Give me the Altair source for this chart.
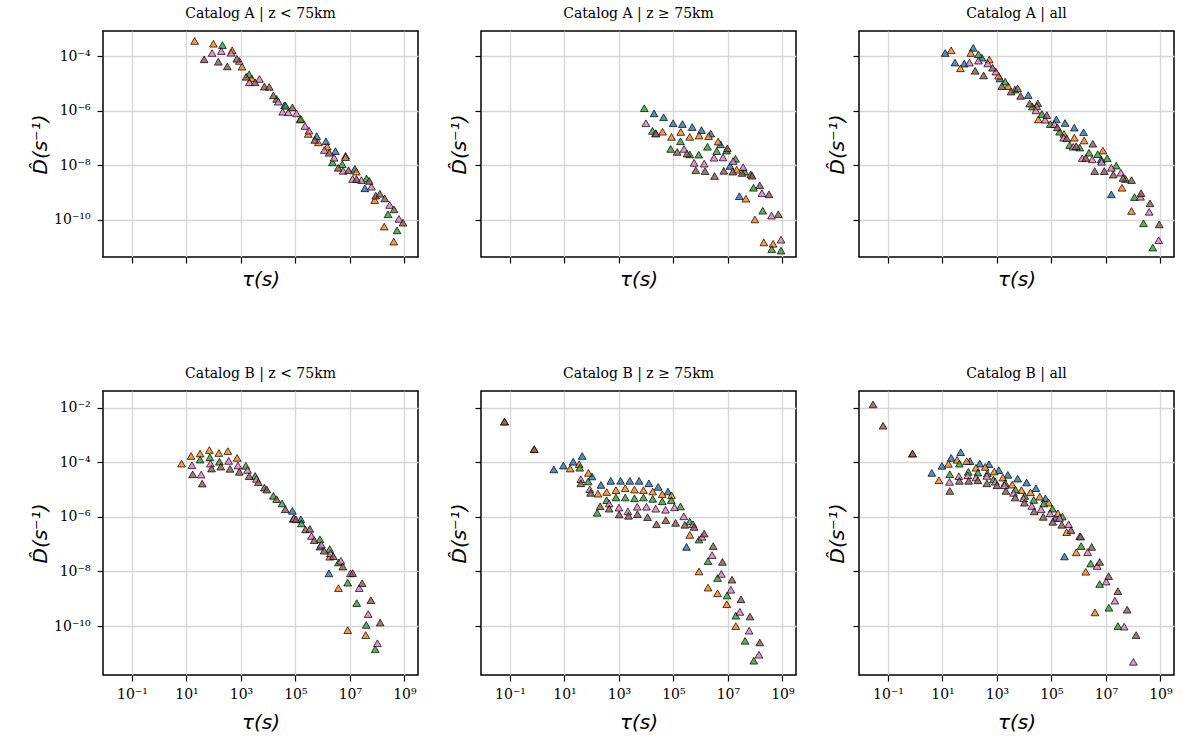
import math
import altair as alt
import pandas as pd

# ---- series styling (tab10-like colours) ----
SERIES = ["s1", "s2", "s3", "s4", "s5"]
COLORS = ["#1f77b4", "#ff7f0e", "#2ca02c", "#e377c2", "#8c564b"]

# ---- tick values ----
X_TICKS = [1e-1, 1e1, 1e3, 1e5, 1e7, 1e9]
Y_TICKS_TOP = [1e-4, 1e-6, 1e-8, 1e-10]
Y_TICKS_BOT = [1e-2, 1e-4, 1e-6, 1e-8, 1e-10]
X_DOMAIN_EXP = [-2.064, 9.50]
Y_DOMAIN_TOP_EXP = [-11.354, -3.085]
Y_DOMAIN_BOT_EXP = [-11.793, -1.389]

# ---- data: log10(tau), log10(D) per panel and series ----
# Catalog A | z < 75km
a_lt_s1_tau = [4.6, 5.78, 6.12, 6.47, 6.84, 7.18, 7.55]
a_lt_s1_d = [-5.8, -6.93, -7.12, -7.48, -7.65, -8.13, -8.84]
a_lt_s2_tau = [1.30, 1.99, 2.68, 3.04, 3.40, 5.17, 5.47, 5.84, 6.17, 6.84, 7.24, 7.91, 8.26, 8.61]
a_lt_s2_d = [-3.45, -3.55, -3.79, -4.39, -4.82, -6.32, -6.85, -7.16, -7.32, -7.70, -8.23, -9.27, -10.24, -10.79]
a_lt_s3_tau = [2.32, 3.30, 4.31, 4.64, 5.20, 6.36, 6.72, 7.61, 8.40, 8.73]
a_lt_s3_d = [-3.60, -4.67, -5.57, -5.82, -6.30, -7.89, -7.96, -8.48, -9.79, -10.38]
a_lt_s4_tau = [1.94, 2.28, 2.64, 2.94, 3.31, 3.68, 4.37, 4.53, 4.74, 5.04, 5.35, 5.50, 6.06, 6.42, 6.75, 7.10, 7.42, 7.79, 8.46, 8.80]
a_lt_s4_d = [-3.89, -3.82, -3.88, -4.18, -4.96, -4.84, -5.67, -6.04, -6.06, -6.10, -6.56, -6.73, -7.44, -7.72, -8.20, -8.50, -8.54, -8.78, -9.45, -9.96]
a_lt_s5_tau = [1.65, 2.17, 2.50, 2.85, 3.19, 3.52, 3.86, 4.04, 4.19, 4.89, 5.71, 6.24, 6.57, 6.95, 7.24, 7.71, 7.95, 8.10, 8.28, 8.62, 8.95]
a_lt_s5_d = [-4.12, -4.21, -4.38, -4.10, -4.76, -4.96, -5.12, -5.13, -5.44, -5.88, -7.07, -7.54, -8.09, -8.18, -8.50, -8.57, -9.11, -9.04, -9.21, -9.61, -10.10]

# Catalog A | z >= 75km
a_ge_s1_tau = [4.29, 4.64, 4.99, 5.33, 5.69, 6.03, 6.37, 6.73, 7.08, 7.42]
a_ge_s1_d = [-6.10, -6.24, -6.46, -6.49, -6.60, -6.71, -6.84, -7.23, -8.02, -9.13]
a_ge_s2_tau = [4.60, 4.93, 5.27, 5.60, 5.94, 6.29, 6.64, 7.32, 7.66, 7.99, 8.32, 8.66]
a_ge_s2_d = [-6.77, -6.96, -6.78, -6.96, -6.91, -6.93, -7.13, -8.16, -9.22, -9.98, -10.82, -10.87]
a_ge_s3_tau = [3.93, 4.23, 4.90, 5.26, 5.60, 5.93, 6.25, 6.59, 6.95, 7.28, 7.62, 7.94, 8.28, 8.61, 8.95]
a_ge_s3_d = [-5.91, -6.74, -7.40, -7.12, -7.60, -7.61, -7.32, -7.48, -7.46, -7.76, -8.23, -8.82, -9.66, -11.07, -11.12]
a_ge_s4_tau = [3.99, 4.35, 5.39, 5.76, 6.13, 6.49, 6.82, 7.19, 7.56, 8.25, 8.60, 8.95]
a_ge_s4_d = [-6.46, -6.82, -7.40, -7.91, -7.94, -7.72, -7.71, -7.84, -8.07, -9.02, -9.84, -10.72]
a_ge_s5_tau = [4.35, 5.14, 5.50, 5.82, 6.16, 6.51, 6.85, 6.98, 7.18, 7.52, 7.84, 7.89, 8.17, 8.51, 8.85]
a_ge_s5_d = [-6.84, -7.51, -7.57, -8.18, -8.21, -8.39, -8.20, -7.38, -8.23, -8.28, -8.33, -8.38, -8.73, -9.06, -9.79]

# Catalog A | all
a_all_s1_tau = [1.10, 1.46, 1.80, 2.13, 2.45, 3.11, 4.15, 4.50, 5.18, 5.50, 5.84, 6.18, 6.83, 7.20]
a_all_s1_d = [-3.89, -4.24, -4.28, -3.70, -4.06, -4.82, -5.43, -5.73, -6.32, -6.45, -6.62, -6.79, -7.78, -9.06]
a_all_s2_tau = [1.32, 1.66, 2.04, 2.72, 3.06, 3.41, 4.46, 4.52, 5.46, 5.84, 6.20, 6.89, 7.59, 7.94]
a_all_s2_d = [-3.79, -4.45, -3.89, -4.13, -4.72, -5.10, -5.84, -6.32, -6.85, -6.99, -7.09, -7.46, -8.82, -9.67]
a_all_s3_tau = [2.32, 3.30, 3.66, 4.30, 4.65, 4.96, 5.30, 5.67, 6.04, 6.38, 6.70, 7.05, 7.38, 7.72, 8.05, 8.38, 8.72]
a_all_s3_d = [-3.94, -4.94, -5.23, -5.85, -6.12, -6.49, -6.77, -7.26, -7.35, -7.54, -7.59, -7.74, -8.01, -8.50, -9.16, -10.12, -11.01]
a_all_s4_tau = [1.99, 2.32, 2.66, 2.96, 4.43, 4.77, 5.11, 5.45, 5.80, 6.13, 6.50, 6.84, 7.20, 7.55, 8.27, 8.59, 8.94]
a_all_s4_d = [-4.24, -4.17, -4.27, -4.57, -5.99, -6.33, -6.49, -6.99, -7.32, -7.74, -7.78, -7.87, -8.09, -8.27, -9.15, -9.70, -10.74]
a_all_s5_tau = [2.20, 2.51, 2.84, 3.18, 3.52, 3.76, 3.87, 4.20, 4.83, 5.22, 5.56, 5.91, 6.26, 6.52, 6.59, 6.94, 7.27, 7.63, 7.94, 8.29, 8.62, 8.96]
a_all_s5_d = [-4.54, -4.71, -4.43, -5.10, -5.30, -5.18, -5.46, -5.74, -6.16, -6.61, -7.01, -7.30, -7.73, -7.21, -8.21, -8.21, -8.34, -8.46, -8.54, -9.02, -9.39, -10.16]

# Catalog B | z < 75km
b_lt_s1_tau = [4.89, 5.20, 5.90, 6.23]
b_lt_s1_d = [-5.78, -6.09, -7.09, -8.07]
b_lt_s2_tau = [0.82, 1.17, 1.50, 1.84, 2.19, 2.52, 2.86, 6.26, 6.58, 6.92, 7.58]
b_lt_s2_d = [-4.05, -3.77, -3.68, -3.55, -3.66, -3.59, -3.84, -7.46, -8.61, -10.15, -10.33]
b_lt_s3_tau = [1.50, 1.86, 2.21, 3.18, 3.52, 4.19, 4.51, 4.92, 5.22, 5.90, 6.26, 6.58, 6.92, 7.25, 7.60, 7.93]
b_lt_s3_d = [-3.90, -3.82, -3.98, -4.13, -4.50, -5.23, -5.51, -6.07, -6.24, -6.82, -7.18, -7.67, -8.41, -9.16, -9.96, -10.85]
b_lt_s4_tau = [1.20, 1.54, 1.88, 2.55, 2.89, 3.24, 3.57, 4.95, 5.59, 5.95, 6.29, 6.67, 7.02, 7.34, 7.67, 8.01]
b_lt_s4_d = [-4.11, -4.45, -4.05, -3.95, -4.12, -4.28, -4.61, -6.05, -6.70, -7.02, -7.34, -7.61, -8.07, -8.61, -9.56, -10.63]
b_lt_s5_tau = [1.23, 1.58, 1.92, 2.26, 2.60, 2.94, 3.30, 3.64, 3.86, 3.95, 4.31, 4.63, 5.02, 5.37, 5.53, 5.69, 6.05, 6.39, 6.74, 7.10, 7.45, 7.77, 8.11]
b_lt_s5_d = [-4.44, -4.78, -4.23, -4.16, -4.24, -4.35, -4.51, -4.73, -4.93, -5.00, -5.35, -5.72, -6.09, -6.46, -6.44, -6.85, -7.24, -7.44, -7.82, -8.06, -8.43, -9.05, -9.87]

# Catalog B | z >= 75km
b_ge_s1_tau = [0.61, 0.96, 1.32, 1.65, 2.01, 2.34, 2.70, 3.06, 3.40, 3.74, 4.10, 4.44, 4.80, 5.48]
b_ge_s1_d = [-4.26, -4.12, -3.98, -3.77, -4.52, -4.83, -4.68, -4.68, -4.68, -4.68, -4.77, -4.90, -5.07, -7.10]
b_ge_s2_tau = [-1.20, -0.11, 1.21, 1.54, 1.88, 2.23, 2.55, 2.89, 3.23, 3.57, 3.90, 4.24, 4.59, 4.93, 5.60, 5.94, 6.27, 6.62, 6.96, 7.29]
b_ge_s2_d = [-2.51, -3.52, -4.23, -4.07, -4.39, -5.15, -5.09, -5.02, -4.95, -5.00, -5.02, -5.07, -5.17, -5.21, -6.66, -8.00, -8.59, -8.80, -9.20, -10.00]
b_ge_s3_tau = [1.56, 1.87, 2.20, 2.55, 2.89, 3.23, 3.57, 3.90, 4.24, 4.59, 4.92, 5.26, 5.60, 5.94, 6.27, 6.62, 6.97, 7.29, 7.63, 7.95]
b_ge_s3_d = [-4.20, -4.70, -5.85, -5.39, -5.29, -5.29, -5.32, -5.29, -5.34, -5.43, -5.39, -5.62, -6.17, -6.83, -7.62, -8.24, -8.88, -9.62, -10.54, -11.27]
b_ge_s4_tau = [1.60, 1.93, 2.64, 3.00, 3.33, 3.67, 4.01, 4.35, 4.71, 5.04, 5.38, 5.72, 6.05, 6.42, 6.76, 7.11, 7.44, 7.78, 8.14]
b_ge_s4_d = [-4.62, -4.99, -5.51, -5.66, -5.80, -5.63, -5.63, -5.70, -5.74, -5.65, -5.98, -6.27, -6.73, -7.40, -8.09, -8.67, -9.48, -10.17, -11.05]
b_ge_s5_tau = [-1.20, -0.11, 1.60, 1.96, 2.31, 2.64, 3.01, 3.35, 3.68, 4.05, 4.38, 4.72, 5.08, 5.42, 5.76, 6.13, 6.46, 6.80, 7.15, 7.48, 7.81, 8.17]
b_ge_s5_d = [-2.51, -3.52, -4.77, -5.12, -5.61, -5.70, -5.91, -5.96, -5.90, -6.01, -6.27, -6.12, -6.22, -6.29, -6.37, -6.61, -7.07, -7.65, -8.30, -9.02, -9.65, -10.60]

# Catalog B | all
b_all_s1_tau = [0.61, 0.98, 1.32, 1.67, 2.01, 2.37, 2.71, 3.07, 3.40, 3.76, 4.09, 4.43, 4.78, 5.15, 5.48]
b_all_s1_d = [-4.39, -4.13, -3.84, -3.63, -3.96, -4.05, -4.07, -4.29, -4.46, -4.60, -4.74, -4.95, -5.32, -6.04, -7.45]
b_all_s2_tau = [-0.10, 0.87, 1.22, 1.54, 1.89, 2.23, 2.57, 2.90, 3.22, 3.56, 3.90, 4.23, 4.57, 4.90, 5.24, 5.56, 5.91, 6.26, 6.60]
b_all_s2_d = [-3.68, -4.66, -4.06, -3.91, -3.96, -4.20, -4.17, -4.34, -4.56, -4.82, -5.02, -5.10, -5.26, -5.48, -5.87, -6.56, -7.30, -8.01, -9.50]
b_all_s3_tau = [1.27, 1.62, 1.95, 2.30, 2.65, 2.87, 3.30, 3.68, 4.02, 4.35, 4.72, 5.04, 5.40, 6.09, 6.44, 6.77, 7.11, 7.44]
b_all_s3_d = [-4.44, -4.05, -4.35, -4.38, -4.41, -4.63, -4.76, -5.00, -5.23, -5.38, -5.51, -5.70, -5.99, -7.07, -7.71, -8.46, -9.33, -10.00]
b_all_s4_tau = [1.26, 1.60, 1.93, 2.23, 2.63, 2.94, 3.28, 3.61, 3.98, 4.28, 4.62, 4.95, 5.30, 5.63, 6.04, 6.33, 6.68, 7.01, 7.33, 7.67, 8.01]
b_all_s4_d = [-4.72, -4.51, -4.48, -4.56, -4.50, -4.71, -4.84, -5.12, -5.32, -5.60, -5.72, -5.87, -6.04, -6.27, -6.71, -7.29, -7.80, -8.37, -9.07, -10.02, -11.31]
b_all_s5_tau = [-1.55, -1.18, -0.10, 1.27, 1.62, 1.96, 2.30, 2.63, 3.00, 3.33, 3.67, 4.01, 4.37, 4.70, 5.05, 5.38, 5.72, 6.07, 6.48, 6.77, 7.10, 7.44, 7.78, 8.11]
b_all_s5_d = [-1.88, -2.66, -3.68, -5.05, -4.68, -4.68, -4.66, -4.77, -4.84, -5.05, -5.29, -5.48, -5.80, -6.00, -6.18, -6.29, -6.49, -6.72, -7.10, -7.65, -8.17, -8.72, -9.40, -10.33]

TITLES = [
    "Catalog A | z < 75km", "Catalog A | z ≥ 75km", "Catalog A | all",
    "Catalog B | z < 75km", "Catalog B | z ≥ 75km", "Catalog B | all",
]

PANELS = [
    [(a_lt_s1_tau, a_lt_s1_d), (a_lt_s2_tau, a_lt_s2_d), (a_lt_s3_tau, a_lt_s3_d), (a_lt_s4_tau, a_lt_s4_d), (a_lt_s5_tau, a_lt_s5_d)],
    [(a_ge_s1_tau, a_ge_s1_d), (a_ge_s2_tau, a_ge_s2_d), (a_ge_s3_tau, a_ge_s3_d), (a_ge_s4_tau, a_ge_s4_d), (a_ge_s5_tau, a_ge_s5_d)],
    [(a_all_s1_tau, a_all_s1_d), (a_all_s2_tau, a_all_s2_d), (a_all_s3_tau, a_all_s3_d), (a_all_s4_tau, a_all_s4_d), (a_all_s5_tau, a_all_s5_d)],
    [(b_lt_s1_tau, b_lt_s1_d), (b_lt_s2_tau, b_lt_s2_d), (b_lt_s3_tau, b_lt_s3_d), (b_lt_s4_tau, b_lt_s4_d), (b_lt_s5_tau, b_lt_s5_d)],
    [(b_ge_s1_tau, b_ge_s1_d), (b_ge_s2_tau, b_ge_s2_d), (b_ge_s3_tau, b_ge_s3_d), (b_ge_s4_tau, b_ge_s4_d), (b_ge_s5_tau, b_ge_s5_d)],
    [(b_all_s1_tau, b_all_s1_d), (b_all_s2_tau, b_all_s2_d), (b_all_s3_tau, b_all_s3_d), (b_all_s4_tau, b_all_s4_d), (b_all_s5_tau, b_all_s5_d)],
]

SUP = str.maketrans("-0123456789", "⁻⁰¹²³⁴⁵⁶⁷⁸⁹")


def label_expr(ticks):
    expr = "''"
    for t in ticks:
        e = int(round(math.log10(t)))
        expr = f"(round(log(datum.value)/LN10) == {e} ? '10{str(e).translate(SUP)}' : {expr})"
    return expr


def make_df(series_list):
    rows = []
    for name, (taus, ds) in zip(SERIES, series_list):
        for t, d in zip(taus, ds):
            rows.append({"tau": 10 ** t, "D": 10 ** d, "series": name})
    return pd.DataFrame(rows)


def panel(idx, height, ydom, yticks, show_xlab, show_ylab):
    df = make_df(PANELS[idx])
    x_axis = alt.Axis(
        values=X_TICKS, labels=show_xlab, labelExpr=label_expr(X_TICKS),
        title="τ(s)", labelFlush=False, labelOverlap=False,
        labelPadding=6, titlePadding=11 if show_xlab else 6,
    )
    y_axis = alt.Axis(
        values=yticks, labels=show_ylab, labelExpr=label_expr(yticks),
        title="D̂(s⁻¹)", labelFlush=False, labelOverlap=False,
        labelPadding=7, titlePadding=3 if show_ylab else 5,
    )
    return alt.Chart(df).mark_point(
        shape="triangle-up", filled=True, size=60,
        stroke="black", strokeWidth=0.8, fillOpacity=0.8, strokeOpacity=0.9,
    ).encode(
        x=alt.X("tau:Q", scale=alt.Scale(type="log", domain=[10 ** X_DOMAIN_EXP[0], 10 ** X_DOMAIN_EXP[1]], nice=False), axis=x_axis),
        y=alt.Y("D:Q", scale=alt.Scale(type="log", domain=[10 ** ydom[0], 10 ** ydom[1]], nice=False), axis=y_axis),
        fill=alt.Fill("series:N", scale=alt.Scale(domain=SERIES, range=COLORS), legend=None),
    ).properties(
        width=315, height=height,
        title=alt.TitleParams(TITLES[idx], font="DejaVu Serif", fontSize=14, fontWeight="normal",
                              color="black", offset=10, anchor="middle"),
    )


top = alt.hconcat(
    panel(0, 226, Y_DOMAIN_TOP_EXP, Y_TICKS_TOP, False, True),
    panel(1, 226, Y_DOMAIN_TOP_EXP, Y_TICKS_TOP, False, False),
    panel(2, 226, Y_DOMAIN_TOP_EXP, Y_TICKS_TOP, False, False),
    spacing=29,
)
bottom = alt.hconcat(
    panel(3, 284, Y_DOMAIN_BOT_EXP, Y_TICKS_BOT, True, True),
    panel(4, 284, Y_DOMAIN_BOT_EXP, Y_TICKS_BOT, True, False),
    panel(5, 284, Y_DOMAIN_BOT_EXP, Y_TICKS_BOT, True, False),
    spacing=29,
)

chart = alt.vconcat(top, bottom, spacing=75).properties(
    padding={"left": 29, "top": 6, "right": 5, "bottom": 5}
).configure(
    background="white"
).configure_view(
    stroke="black", strokeWidth=1.5
).configure_axis(
    domain=False, tickSize=6, tickWidth=1.2, tickColor="black",
    grid=True, gridColor="#d6d6d6", gridWidth=1.3,
    labelFont="DejaVu Serif", labelFontSize=14, labelColor="black",
    titleFont="DejaVu Sans", titleFontSize=20, titleFontStyle="italic",
    titleFontWeight="normal", titleColor="black",
)

chart.save("out.html", embed_options={"renderer": "svg", "actions": False})
